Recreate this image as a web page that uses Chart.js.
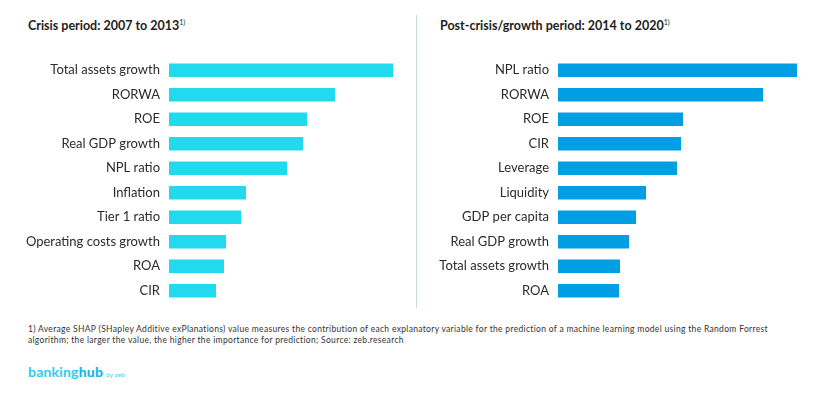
<!DOCTYPE html>
<html>
<head>
<meta charset="utf-8">
<script src="https://cdn.jsdelivr.net/npm/chart.js@4"></script>
<style>
  html, body { margin: 0; padding: 0; background: #fff; }
  body { width: 825px; height: 398px; position: relative; overflow: hidden; font-family: Lato, "Noto Sans", sans-serif; color: #222; }
  .title { position: absolute; top: 18px; font-size: 12.5px; font-weight: 700; color: #1d1d1b; white-space: nowrap; }
  .title sup { font-size: 7px; font-weight: 400; vertical-align: 5px; line-height: 0; }
  .divider { position: absolute; left: 416px; top: 15px; width: 1px; height: 293px; background: #c9d7e1; }
  .box { position: absolute; }
  .note { position: absolute; left: 28px; top: 324px; width: 790px; font-size: 8.5px; letter-spacing: 0.32px; line-height: 11px; color: #333; white-space: nowrap; }
  .logo { position: absolute; left: 28px; top: 363px; font-size: 14px; font-weight: 700; color: #2ccdef; letter-spacing: 0.2px; }
  .logo b { font-weight: 900; color: #16b6e6; }
  .logo small { font-size: 6px; font-weight: 400; margin-left: 3px; letter-spacing: 0.3px; }
</style>
</head>
<body>
<div class="title" style="left:28px">Crisis period: 2007 to 2013<sup>1)</sup></div>
<div class="title" style="left:440px">Post-crisis/growth period: 2014 to 2020<sup>1)</sup></div>
<div class="divider"></div>
<div class="box" style="left:0; top:58px; width:410px; height:245px"><canvas id="crisis"></canvas></div>
<div class="box" style="left:390px; top:58px; width:430px; height:245px"><canvas id="growth"></canvas></div>
<div class="note">1) Average SHAP (SHapley Additive exPlanations) value measures the contribution of each explanatory variable for the prediction of a machine learning model using the Random Forrest<br>algorithm; the larger the value, the higher the importance for prediction; Source: zeb.research</div>
<div class="logo">banking<b>hub</b><small>by zeb</small></div>
<script>
  // --- Data (relative average SHAP values) ---
  const crisisLabels = ['Total assets growth', 'RORWA', 'ROE', 'Real GDP growth', 'NPL ratio',
    'Inflation', 'Tier 1 ratio', 'Operating costs growth', 'ROA', 'CIR'];
  const crisisValues = [2.24, 1.66, 1.38, 1.34, 1.18, 0.77, 0.72, 0.57, 0.55, 0.47];

  const growthLabels = ['NPL ratio', 'RORWA', 'ROE', 'CIR', 'Leverage',
    'Liquidity', 'GDP per capita', 'Real GDP growth', 'Total assets growth', 'ROA'];
  const growthValues = [2.39, 2.05, 1.25, 1.23, 1.19, 0.88, 0.78, 0.71, 0.62, 0.61];

  const makeChart = (id, labels, values, color, axisWidth, xMax) => {
    new Chart(document.getElementById(id), {
      type: 'bar',
      data: {
        labels: labels,
        datasets: [{
          data: values,
          backgroundColor: color,
          borderWidth: 0,
          categoryPercentage: 1,
          barPercentage: 0.56
        }]
      },
      options: {
        indexAxis: 'y',
        responsive: true,
        maintainAspectRatio: false,
        animation: false,
        layout: { padding: 0 },
        plugins: { legend: { display: false }, tooltip: { enabled: false } },
        scales: {
          x: { display: false, min: 0, max: xMax },
          y: {
            grid: { display: false, drawTicks: false },
            border: { display: false },
            ticks: {
              padding: 9,
              color: '#2b2b2b',
              font: { family: 'Lato, "Noto Sans", sans-serif', size: 13 }
            },
            afterFit: (scale) => {
              // fixed label column, and no extra room above/below the bars
              scale.width = axisWidth;
              scale.paddingTop = 0;
              scale.paddingBottom = 0;
            }
          }
        }
      }
    });
  };

  makeChart('crisis', crisisLabels, crisisValues, '#22daee', 169, 2.41);
  makeChart('growth', growthLabels, growthValues, '#009fe3', 168, 2.62);
</script>
</body>
</html>
